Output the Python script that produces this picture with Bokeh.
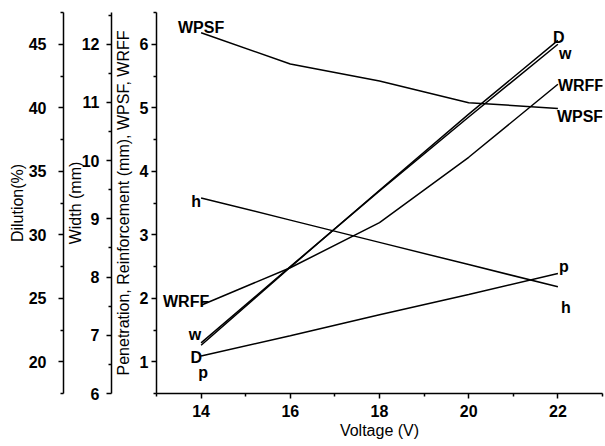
from bokeh.plotting import figure
from bokeh.models import Range1d, LinearAxis, FixedTicker, Label
from bokeh.embed import file_html
from bokeh.resources import INLINE

# ---- data ----
voltage = [14, 16, 18, 20, 22]
wpsf = [6.18, 5.69, 5.42, 5.08, 4.99]
wrff = [1.89, 2.48, 3.19, 4.22, 5.37]
penetration = [1.09, 1.41, 1.74, 2.06, 2.39]
reinforcement = [3.58, 3.23, 2.88, 2.53, 2.18]
dilution = [21.3, 27.45, 33.5, 39.5, 45.3]
width_mm = [6.87, 8.18, 9.48, 10.75, 12.0]

x_ticks = [14, 16, 18, 20, 22]
x_minor = [13, 15, 17, 19, 21, 23]
main_ticks = [1, 2, 3, 4, 5, 6]
main_minor = [0.5, 1.5, 2.5, 3.5, 4.5, 5.5, 6.5]
width_ticks = [6, 7, 8, 9, 10, 11, 12]
width_minor = [6.5, 7.5, 8.5, 9.5, 10.5, 11.5, 12.5]
dil_ticks = [20, 25, 30, 35, 40, 45]
dil_minor = [17.5, 22.5, 27.5, 32.5, 37.5, 42.5, 47.5]

FONT = "Liberation Sans"

p = figure(width=605, height=446, x_range=Range1d(13, 23), y_range=Range1d(0.5, 6.5),
           toolbar_location=None, output_backend="svg",
           min_border_top=12, min_border_right=3, min_border_left=156, min_border_bottom=53)
p.extra_y_ranges = {"width": Range1d(6, 12.545), "dil": Range1d(17.5, 47.5)}
p.outline_line_color = None
p.xgrid.visible = False
p.ygrid.visible = False
p.background_fill_color = "white"
p.border_fill_color = "white"


def style(ax, ticks, minor, label, label_size, lab_standoff, axlab_standoff):
    ax.ticker = FixedTicker(ticks=ticks, minor_ticks=minor)
    ax.axis_label = label
    ax.axis_line_width = 1.5
    ax.axis_line_color = "black"
    ax.major_tick_line_width = 1.5
    ax.minor_tick_line_width = 1.5
    ax.major_tick_line_color = "black"
    ax.minor_tick_line_color = "black"
    ax.major_tick_out = 5
    ax.major_tick_in = 0
    ax.minor_tick_out = 3
    ax.minor_tick_in = 0
    ax.major_label_text_font = FONT
    ax.major_label_text_font_size = "16px"
    ax.major_label_text_font_style = "bold"
    ax.major_label_text_color = "black"
    ax.major_label_standoff = lab_standoff
    ax.axis_label_text_font = FONT
    ax.axis_label_text_font_size = label_size
    ax.axis_label_text_font_style = "normal"
    ax.axis_label_text_color = "black"
    ax.axis_label_standoff = axlab_standoff


style(p.xaxis[0], x_ticks, x_minor, "Voltage (V)", "16px", 6, 2)
style(p.yaxis[0], main_ticks, main_minor, "Penetration, Reinforcement (mm), WPSF, WRFF", "16px", 3, 5)

# invisible spacer between the main axis title and the width axis
spacer = LinearAxis(ticker=FixedTicker(ticks=[]), axis_line_color=None,
                    major_tick_line_color=None, minor_tick_line_color=None,
                    major_tick_out=10, major_tick_in=0, minor_tick_out=0, minor_tick_in=0,
                    major_label_standoff=0)
p.add_layout(spacer, "left")

ax_w = LinearAxis(y_range_name="width")
style(ax_w, width_ticks, width_minor, "Width (mm)", "16px", 7, -5)
p.add_layout(ax_w, "left")

ax_d = LinearAxis(y_range_name="dil")
style(ax_d, dil_ticks, dil_minor, "Dilution(%)", "16px", 12, 0)
p.add_layout(ax_d, "left")

LW = 1.5
p.line(voltage, wpsf, line_color="black", line_width=LW)
p.line(voltage, wrff, line_color="black", line_width=LW)
p.line(voltage, penetration, line_color="black", line_width=LW)
p.line(voltage, reinforcement, line_color="black", line_width=LW)
p.line(voltage, dilution, line_color="black", line_width=LW, y_range_name="dil")
p.line(voltage, width_mm, line_color="black", line_width=LW, y_range_name="width")

# series labels: (text, series, index, range, align, x_off, y_off)
labels = [
    ("WPSF", wpsf, 0, "default", "center", 0, 5),
    ("WPSF", wpsf, -1, "default", "left", -1, -8.3),
    ("WRFF", wrff, -1, "default", "left", 0, -1),
    ("D", dilution, -1, "dil", "center", 1, 3.3),
    ("w", width_mm, -1, "width", "left", 1, -9.7),
    ("p", penetration, -1, "default", "left", 1, 7.3),
    ("h", reinforcement, -1, "default", "left", 3, -21),
    ("h", reinforcement, 0, "default", "right", 0, -3.3),
    ("WRFF", wrff, 0, "default", "center", -15, 4),
    ("w", width_mm, 0, "width", "right", 0, 8.7),
    ("D", dilution, 0, "dil", "right", 1, -12.7),
    ("p", penetration, 0, "default", "center", 2, -16.5),
]
for text, ser, i, rng, align, xo, yo in labels:
    p.add_layout(Label(x=voltage[i], y=ser[i], y_range_name=rng, text=text,
                       x_offset=xo, y_offset=yo, text_align=align, text_baseline="alphabetic",
                       text_font=FONT, text_font_size="16px", text_font_style="bold",
                       text_color="black"))

open("out.html", "w").write(file_html(p, INLINE))
